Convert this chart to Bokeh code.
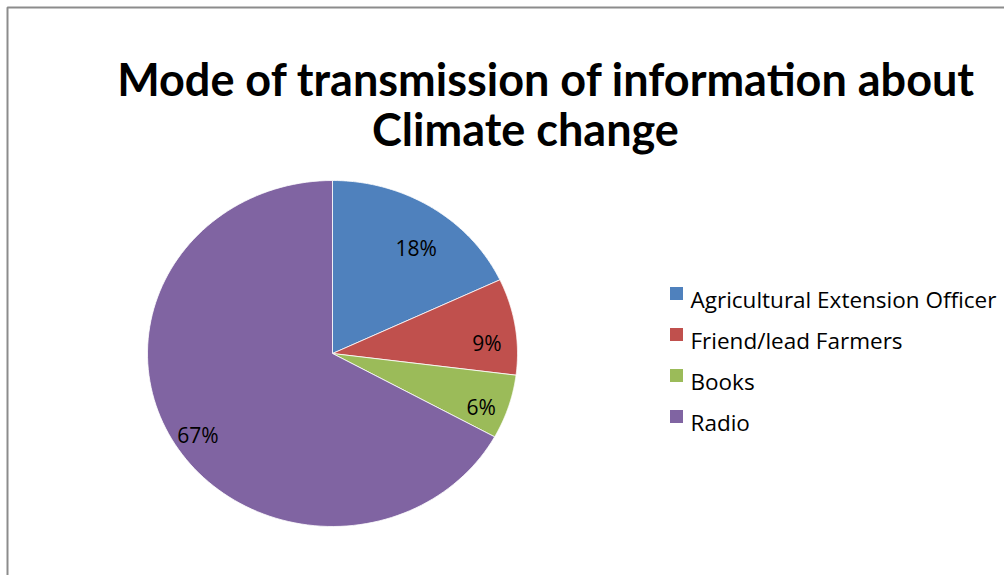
import numpy as np
from bokeh.plotting import figure
from bokeh.models import Range1d, BoxAnnotation, ColumnDataSource
from bokeh.core.properties import value
from bokeh.embed import file_html
from bokeh.resources import INLINE

# ---- data ----
title_lines = ["Mode of transmission of information about", "Climate change"]
categories = ["Agricultural Extension Officer", "Friend/lead Farmers", "Books", "Radio"]
values = [18, 9, 6, 67]
colors = ["#4F81BD", "#C0504D", "#9BBB59", "#8064A2"]

FONT = "Lato"
LEG_FONT = "Open Sans"
W, H = 1004, 575
p = figure(width=W, height=H, output_backend="svg", toolbar_location=None,
           x_range=Range1d(0, W), y_range=Range1d(H, 0), min_border=0)
p.axis.visible = False
p.grid.visible = False
p.outline_line_color = None
p.background_fill_color = "white"
p.border_fill_color = "white"

# chart border (extends beyond the window on right and bottom)
p.add_layout(BoxAnnotation(left=7, top=7, right=W + 20, bottom=H + 20,
                           fill_alpha=0, line_color="#8C8C8C", line_alpha=1.0, line_width=2))

# title
p.text(x=[546], y=[78], text=[title_lines[0]], text_font=value(FONT),
       text_font_style="bold", text_font_size="45px", text_align="center",
       text_baseline="alphabetic", text_color="black")
p.text(x=[525], y=[128], text=[title_lines[1]], text_font=value(FONT),
       text_font_style="bold", text_font_size="45px", text_align="center",
       text_baseline="alphabetic", text_color="black")

# pie (slightly elliptical as in the reference)
cx, cy, rx, ry = 332, 353, 185, 173
total = float(sum(values))
fr = np.cumsum([0] + values) / total
xs, ys, lx, ly = [], [], [], []
for i in range(len(values)):
    a0, a1 = 2 * np.pi * fr[i], 2 * np.pi * fr[i + 1]
    t = np.linspace(a0, a1, 120)
    xs.append([cx] + list(cx + rx * np.sin(t)) + [cx])
    ys.append([cy] + list(cy - ry * np.cos(t)) + [cy])
    am = (a0 + a1) / 2
    lx.append(cx + 0.845 * rx * np.sin(am))
    ly.append(cy - 0.80 * ry * np.cos(am) + 11)
src = ColumnDataSource(dict(xs=xs, ys=ys, color=colors))
p.patches("xs", "ys", source=src, fill_color="color", line_color="white", line_width=0.8)

labels = [f"{v}%" for v in values]
p.text(x=lx, y=ly, text=labels, text_font=value(LEG_FONT), text_font_size="21px",
       text_align="center", text_baseline="middle", text_color="black")

# legend
leg_y = [299 + 41 * i for i in range(len(categories))]
p.rect(x=[676] * 4, y=[yy - 6 for yy in leg_y], width=13, height=13, fill_color=colors, line_color=None)
p.text(x=[690] * 4, y=leg_y, text=categories, text_font=value(LEG_FONT), text_font_size="22.5px",
       text_align="left", text_baseline="middle", text_color="black")

open("out.html", "w").write(file_html(p, INLINE))
